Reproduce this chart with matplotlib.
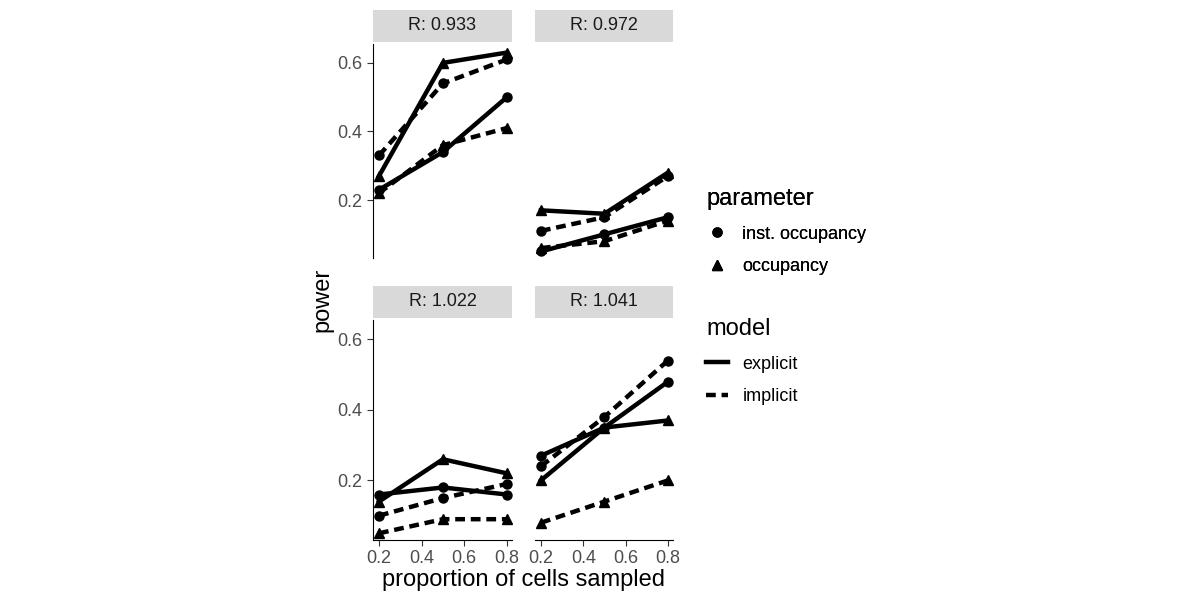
import matplotlib
matplotlib.use("Agg")
import matplotlib.pyplot as plt
from matplotlib.lines import Line2D

x = [0.2, 0.5, 0.8]
panels = ["R: 0.933", "R: 0.972", "R: 1.022", "R: 1.041"]

# per panel: (explicit inst, explicit occ, implicit inst, implicit occ)
exp_inst = [[0.23, 0.34, 0.50], [0.05, 0.10, 0.15], [0.16, 0.18, 0.16], [0.27, 0.35, 0.48]]
exp_occ = [[0.27, 0.60, 0.63], [0.17, 0.16, 0.28], [0.14, 0.26, 0.22], [0.20, 0.35, 0.37]]
imp_inst = [[0.33, 0.54, 0.61], [0.11, 0.15, 0.27], [0.10, 0.15, 0.19], [0.24, 0.38, 0.54]]
imp_occ = [[0.22, 0.36, 0.41], [0.06, 0.08, 0.14], [0.05, 0.09, 0.09], [0.08, 0.14, 0.20]]

plt.rcParams['font.family'] = ['Liberation Sans', 'DejaVu Sans']
fig = plt.figure(figsize=(12, 6), dpi=100)

W, H = 1200, 600
boxes = [(373, 44, 512, 258), (535, 44, 673, 258), (373, 320, 512, 540), (535, 320, 673, 540)]
strips = [(10, 42), (10, 42), (286, 318), (286, 318)]

series = [(exp_inst, 'o', '-'), (exp_occ, '^', '-'), (imp_inst, 'o', (0, (2.2, 1.3))), (imp_occ, '^', (0, (2.2, 1.3)))]

for i, (l, t, r, b) in enumerate(boxes):
    ax = fig.add_axes([l / W, 1 - b / H, (r - l) / W, (b - t) / H])
    for data, mk, ls in series:
        ax.plot(x, data[i], color='black', lw=3.2, linestyle=ls, marker=mk, markersize=6.5)
    ax.set_xlim(0.172, 0.824)
    ax.set_ylim(0.031, 0.655)
    ax.set_xticks([0.2, 0.4, 0.6, 0.8])
    ax.set_yticks([0.2, 0.4, 0.6])
    for s in ['top', 'right']:
        ax.spines[s].set_visible(False)
    ax.tick_params(labelsize=13, colors='#4d4d4d', length=4)
    ax.tick_params(color='#333333')
    if i % 2 == 1:
        ax.spines['left'].set_visible(False)
        ax.tick_params(axis='y', left=False, labelleft=False)
    if i < 2:
        ax.spines['bottom'].set_visible(False)
        ax.tick_params(axis='x', bottom=False, labelbottom=False)
    st, sb = strips[i]
    sax = fig.add_axes([l / W, 1 - sb / H, (r - l) / W, (sb - st) / H])
    sax.set_facecolor('#d9d9d9')
    sax.set_xticks([]); sax.set_yticks([])
    for s in sax.spines.values():
        s.set_visible(False)
    sax.text(0.5, 0.5, panels[i], ha='center', va='center', fontsize=13, color='#1a1a1a', transform=sax.transAxes)

fig.text(523 / W, 1 - 580 / H, "proportion of cells sampled", ha='center', va='center', fontsize=17)
fig.text(322 / W, 1 - 300 / H, "power", ha='center', va='center', fontsize=17, rotation=90)

h1 = [Line2D([], [], color='black', marker='o', ls='none', markersize=6.5),
      Line2D([], [], color='black', marker='^', ls='none', markersize=6.5)]
leg1 = fig.legend(h1, ["inst. occupancy", "occupancy"], title="parameter", loc='upper left',
                  bbox_to_anchor=(690 / W, 1 - 172 / H), frameon=False, fontsize=13, title_fontsize=17,
                  handlelength=1.2, labelspacing=0.85, alignment='left')
h2 = [Line2D([], [], color='black', lw=3.2, ls='-'),
      Line2D([], [], color='black', lw=3.2, ls=(0, (2.2, 1.3)))]
fig.legend(h2, ["explicit", "implicit"], title="model", loc='upper left',
           bbox_to_anchor=(690 / W, 1 - 302 / H), frameon=False, fontsize=13, title_fontsize=17,
           handlelength=1.2, labelspacing=0.85, alignment='left')
fig.add_artist(leg1)

fig.savefig("out.png", dpi=100, facecolor='white')
